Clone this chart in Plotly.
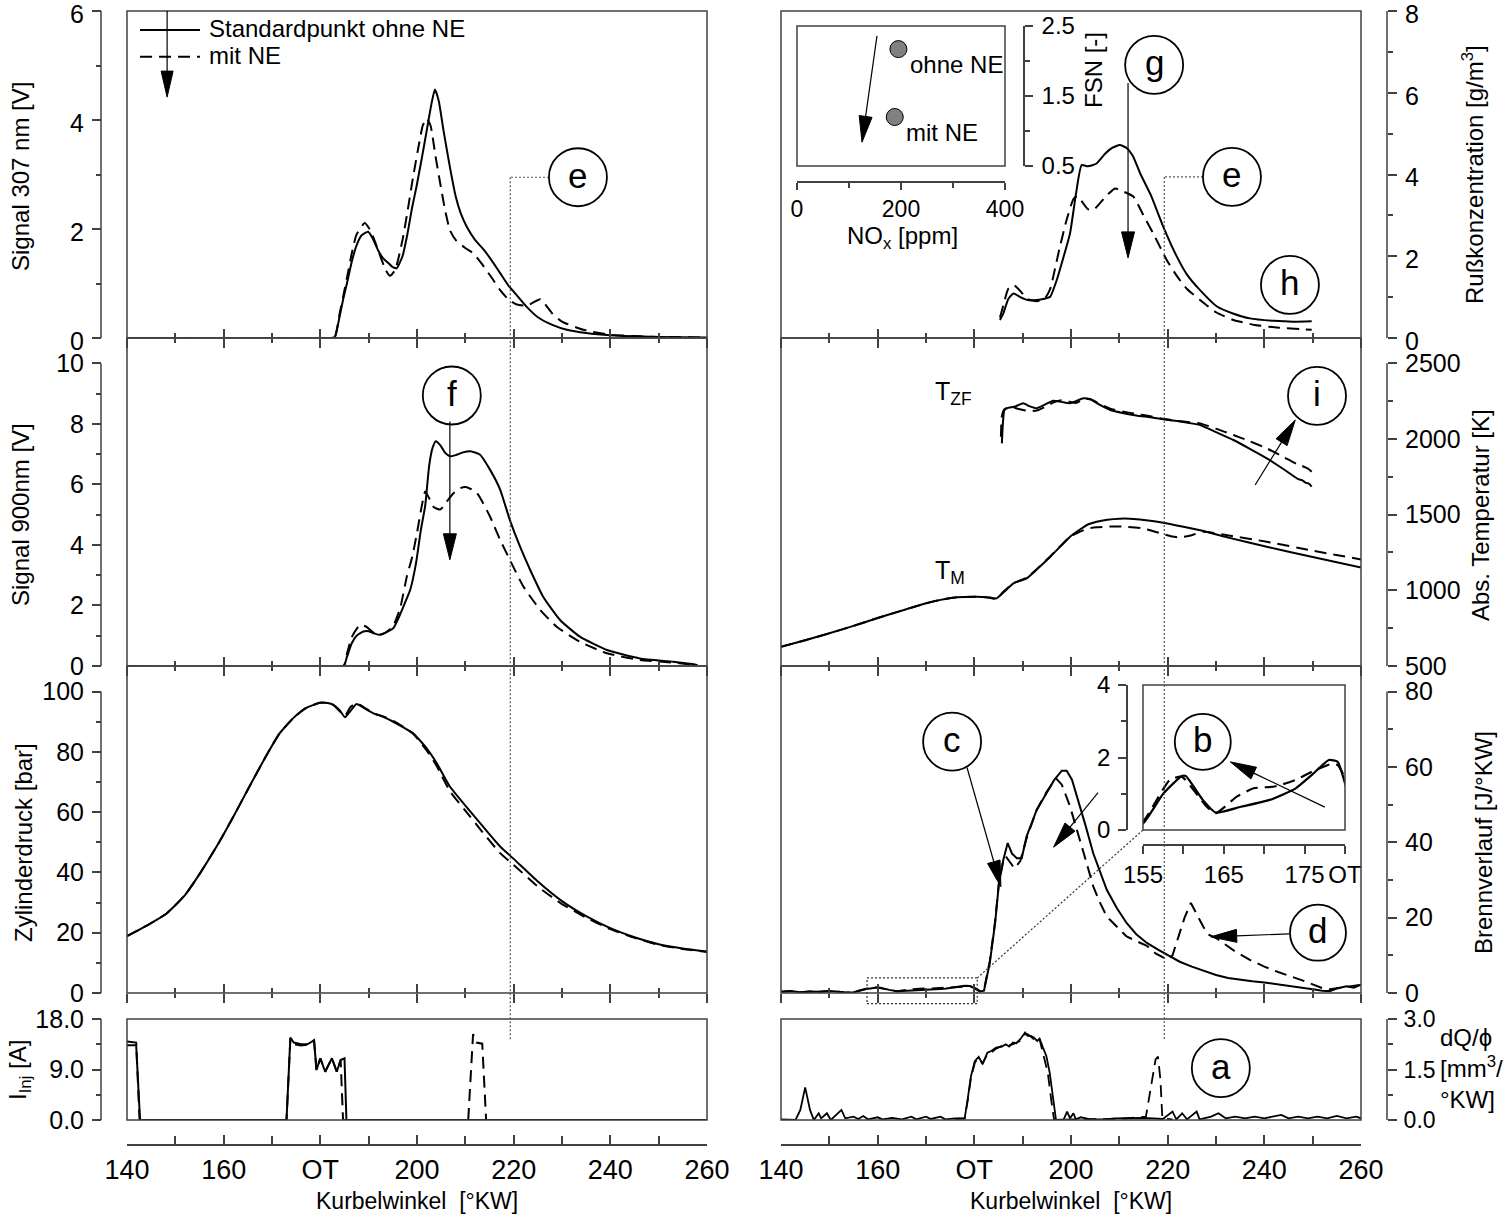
import math
import plotly.graph_objects as go

W, H = 1508, 1218
FONT = "Liberation Sans, Arial, Helvetica, sans-serif"
NARROW = "Liberation Sans Narrow, Arial Narrow, Liberation Sans, sans-serif"
FRAME = "#404040"
INK = "black"
DASH = "12px,7px"

# ---------------- measured data (crank angle in °KW) ----------------
# Signal 307 nm [V]
ca307_std = [140, 182, 183, 184, 184.7, 185.5, 186.5, 187.5, 188.5, 189.9, 191, 192, 193, 194, 195, 195.8,
             197, 198, 199, 199.9, 201, 202, 203, 203.7, 204.5, 205.5, 206.8, 208, 209, 210.3, 212, 214, 216,
             217.2, 219, 220, 222.7, 225, 228, 231, 235, 240, 250, 260]
sig307_std = [0, 0, 0.02, 0.4, 0.7, 1.0, 1.4, 1.7, 1.88, 1.95, 1.8, 1.6, 1.46, 1.38, 1.3, 1.28,
              1.5, 1.9, 2.4, 2.78, 3.3, 3.8, 4.3, 4.56, 4.35, 3.8, 3.14, 2.6, 2.3, 2.04, 1.8, 1.6, 1.35,
              1.19, 0.95, 0.85, 0.57, 0.38, 0.24, 0.15, 0.09, 0.05, 0.02, 0.01]
ca307_ne = [140, 182, 183, 184, 184.7, 185.5, 186.5, 187.5, 189.2, 190.5, 192, 193.5, 194.4, 195.5, 197, 198,
            199.2, 200.5, 201.2, 202, 202.8, 203.8, 204.8, 205.8, 206.8, 208, 210, 211.7, 213.5, 215.5, 217.2,
            219, 220.5, 222.7, 224, 225.5, 226.5, 228, 230, 234.4, 240, 250, 260]
sig307_ne = [0, 0, 0.02, 0.45, 0.75, 1.1, 1.55, 1.9, 2.11, 1.95, 1.6, 1.25, 1.14, 1.25, 1.8, 2.3,
             2.96, 3.6, 3.9, 4.03, 3.9, 3.35, 2.84, 2.35, 1.98, 1.8, 1.65, 1.55, 1.35, 1.1, 0.88,
             0.7, 0.62, 0.59, 0.65, 0.71, 0.62, 0.45, 0.3, 0.15, 0.06, 0.02, 0.01]

# Rußkonzentration [g/m3]
ca_rus_std = [185.3, 186, 187, 188.1, 189.5, 191, 192.9, 194.5, 195.7, 197, 198.5, 199.8, 201, 202.2, 203.5,
              205.3, 207, 208.5, 210.1, 211.5, 212.8, 214.3, 216.5, 219.1, 221.9, 224, 226.7, 230.2, 233.5,
              237, 242, 246, 249.8]
rus_std = [0.44, 0.6, 0.95, 1.09, 1.0, 0.93, 0.93, 0.96, 1.01, 1.4, 2.0, 2.56, 3.5, 4.23, 4.2,
           4.27, 4.5, 4.65, 4.72, 4.65, 4.45, 4.03, 3.5, 2.72, 1.99, 1.55, 1.17, 0.77, 0.6,
           0.48, 0.42, 0.4, 0.41]
ca_rus_ne = [185.3, 186, 187, 188.1, 189.5, 191, 192.9, 194.5, 195.7, 196.7, 197.7, 199, 200.5, 201.3, 202.5,
             203.5, 204.6, 206, 207.5, 209.1, 210.5, 212.9, 215, 217, 219.8, 222, 224, 226.7, 230, 233.6,
             238, 243, 249.8]
rus_ne = [0.5, 0.8, 1.2, 1.3, 1.15, 0.95, 0.9, 0.95, 1.2, 1.7, 2.23, 2.85, 3.4, 3.47, 3.3,
          3.15, 3.13, 3.3, 3.5, 3.66, 3.6, 3.46, 3.0, 2.56, 1.91, 1.5, 1.2, 0.93, 0.63, 0.44,
          0.32, 0.25, 0.2]

# Signal 900 nm [V]
ca900_std = [140, 184.8, 185.5, 186.5, 187.5, 188.9, 190, 191.3, 192.3, 193.5, 195.1, 196.5, 197.8, 198.6,
             199.8, 200.8, 201.7, 202.5, 203.2, 203.9, 204.8, 205.8, 206.8, 208, 209.5, 211, 213, 215.1,
             217.2, 219.2, 221.3, 223.4, 226.1, 229.6, 233.7, 239.3, 246.1, 253, 257.5, 258]
sig900_std = [0, 0, 0.3, 0.75, 1.0, 1.14, 1.15, 1.07, 1.03, 1.1, 1.25, 1.7, 2.2, 2.52,
              3.4, 4.5, 5.3, 6.6, 7.2, 7.43, 7.3, 7.05, 6.93, 6.97, 7.06, 7.10, 6.99, 6.49,
              5.83, 4.83, 3.95, 3.18, 2.29, 1.52, 0.97, 0.53, 0.25, 0.14, 0.05, 0.03]
ca900_ne = [140, 184.8, 185.5, 186.5, 188.2, 189.5, 191, 192.3, 193.5, 195, 196.5, 197.9, 199, 200, 201,
            201.7, 202.5, 203.5, 204.8, 206, 207.5, 209, 210.3, 212.4, 215.1, 217.2, 219.2, 222, 225.5,
            228.9, 233.7, 239.3, 246.1, 253, 257.5, 258]
sig900_ne = [0, 0, 0.4, 0.95, 1.36, 1.3, 1.1, 1.03, 1.1, 1.3, 1.9, 2.96, 3.6, 4.4, 5.3,
             5.77, 5.55, 5.25, 5.17, 5.4, 5.7, 5.88, 5.91, 5.72, 4.94, 4.17, 3.51, 2.63, 1.85,
             1.30, 0.80, 0.42, 0.20, 0.11, 0.04, 0.03]

# Mean gas temperature T_M [K]
ca_tm_std = [140, 145, 150, 155, 160, 165, 170, 173, 176.4, 180.5, 182.5, 184.6, 186, 188.1, 190.8, 193,
             195.7, 197.8, 199.8, 202, 203.5, 205.3, 207.5, 210, 213, 216, 219.1, 223, 227.4, 233,
             240.5, 250, 260]
tm_std = [627, 670, 716, 765, 817, 866, 914, 937, 954, 958, 955, 947, 985, 1046, 1079, 1140,
          1222, 1290, 1354, 1405, 1435, 1453, 1466, 1473, 1472, 1462, 1447, 1422, 1392, 1345,
          1288, 1220, 1150]
ca_tm_ne = [140, 145, 150, 155, 160, 165, 170, 173, 176.4, 180.5, 182.5, 184.6, 186, 188.1, 190.8, 193,
            195.7, 197.8, 199.8, 202, 203.5, 205.3, 208, 211, 215, 219.1, 221, 222.6, 224.5, 227.4,
            233, 240.5, 250, 260]
tm_ne = [627, 670, 716, 765, 817, 866, 914, 937, 954, 958, 955, 945, 990, 1048, 1082, 1142,
         1224, 1292, 1354, 1390, 1408, 1416, 1421, 1421, 1408, 1372, 1355, 1350, 1360, 1387,
         1360, 1321, 1262, 1204]

# Flame temperature T_ZF [K]
ca_tzf_std = [185.7, 185.9, 186.2, 186.7, 188.5, 190.1, 191.5, 192.9, 194.5, 196.3, 198, 199.8, 201, 202.6,
              204, 206, 208.1, 210.9, 213.5, 216.4, 219.1, 222, 224.5, 226.7, 230, 233.6, 237, 240.5,
              244, 247, 247.8, 248.5, 249.2, 249.8]
tzf_std = [1971, 2100, 2190, 2203, 2215, 2236, 2215, 2203, 2225, 2253, 2245, 2236, 2250, 2269,
           2262, 2225, 2191, 2170, 2155, 2143, 2130, 2118, 2105, 2092, 2045, 1993, 1935, 1872,
           1800, 1735, 1728, 1712, 1705, 1685]
ca_tzf_ne = [185.5, 185.7, 186.2, 187.5, 189, 190.1, 191.5, 192.9, 194.5, 196.3, 198, 199.8, 201, 202.6,
             204, 206, 208.1, 210.9, 213.5, 216.4, 219.1, 222, 224.5, 226.7, 230, 233.6, 237, 240.5,
             244, 247, 247.8, 248.5, 249.2, 249.8]
tzf_ne = [2015, 2150, 2195, 2210, 2200, 2191, 2185, 2188, 2210, 2240, 2255, 2245, 2238, 2262,
          2262, 2230, 2200, 2180, 2165, 2150, 2133, 2120, 2110, 2103, 2068, 2026, 1985, 1938,
          1880, 1830, 1822, 1812, 1800, 1784]

# Zylinderdruck [bar]
ca_p = [140, 144, 148.2, 152, 155.1, 158.5, 162, 165.5, 168.9, 171.5, 174.4, 177, 179.9, 181.5, 182.7,
        184, 185.1, 186.2, 187.5, 189, 191, 193, 195.1, 197, 199.2, 202, 204, 206.8, 210, 213.5,
        217.2, 220, 225, 230, 235, 240, 245, 250, 255, 260]
p_std = [18.9, 22.3, 26.4, 32.5, 39.7, 48.5, 58.5, 69, 79, 86, 91.2, 94.5, 96.3, 96.2, 95.6,
         93.8, 91.5, 93.5, 95.9, 94.6, 92.8, 91.6, 90.0, 88.3, 86.2, 81.2, 76.5, 68.5, 62.2, 55.5,
         48.6, 44.5, 37, 30.5, 25.5, 21.5, 18.5, 16.2, 14.8, 13.8]
p_ne = [18.9, 22.3, 26.4, 32.5, 39.7, 48.5, 58.5, 69, 79, 86, 91.2, 94.5, 96.3, 96.2, 95.6,
        93.5, 92.0, 94.8, 96.2, 94.8, 92.8, 91.8, 90.3, 88.5, 86.0, 80.5, 75.5, 67.0, 60.5, 53.5,
        46.4, 42.5, 35.3, 29.5, 25.0, 21.2, 18.3, 16.0, 14.6, 13.6]

# Brennverlauf [J/°KW]
ca_hr_std = [140, 142, 144, 146, 148, 150, 152, 153.5, 155, 157.5, 159.8, 160.3, 162.4, 164, 167.1, 170.7,
             173.9, 175.9, 178, 179.1, 180, 181.2, 182, 183.2, 184.3, 185.1, 186, 186.9, 187.8, 188.8,
             189.8, 190.8, 192.9, 195, 196.5, 198.1, 199.1, 200.2, 201.9, 203, 204.6, 206, 207.4, 209.5,
             211.5, 213.5, 215.7, 218, 220, 222.5, 225, 227.5, 230, 232.5, 235, 237.5, 240, 242.5, 245,
             247.5, 250, 252, 253.5, 255, 257, 258.5, 260]
hr_std = [0.3, 0.5, 0.2, 0.4, 0.3, 0.5, 0.3, 0.1, 0.18, 1.0, 1.49, 1.49, 0.83, 0.48, 0.64, 0.83,
          1.15, 1.52, 1.93, 1.88, 1.29, 0.4, 0.6, 8, 18.6, 29.2, 35.4, 39.8, 37, 35.8,
          35.8, 41.5, 48.6, 53.0, 56.5, 59.0, 59.0, 56.6, 49.5, 44.5, 37.1, 32, 27.4, 22.5,
          18.6, 15.6, 13.3, 11.5, 10, 8.3, 7, 5.8, 4.8, 4.0, 3.5, 3.1, 2.8, 2.4, 2.0,
          1.5, 1.0, 0.6, 0.5, 1.2, 1.8, 1.4, 2.2]
ca_hr_ne = [140, 142, 144, 146, 148, 150, 152, 153.5, 155, 158.3, 159.8, 162.9, 164, 166.6, 168.7, 171.3,
            173.9, 175.9, 178.3, 179.1, 180, 181.2, 182, 183.2, 184.3, 185.1, 186, 186.5, 187.5, 188.3,
            189.5, 190.8, 192.9, 195, 196.9, 198.1, 199.8, 201.9, 203, 204.6, 206, 207.4, 209.5, 211.5,
            213.5, 215.7, 217.5, 219.1, 220, 221, 222, 223.5, 224.8, 226, 227.4, 228.5, 230, 232, 234,
            237, 240, 243, 245.7, 248, 250, 252, 253.5, 255, 257, 260]
hr_ne = [0.3, 0.5, 0.2, 0.4, 0.3, 0.5, 0.3, 0.1, 0.23, 1.38, 1.47, 0.64, 0.46, 0.92, 1.15, 1.2,
         1.38, 1.61, 1.82, 1.79, 1.43, 0.5, 0.8, 8.5, 19, 29.5, 35, 36.3, 34.5, 33.1,
         35, 41, 48.6, 53.5, 57.0, 55.3, 49.5, 40.7, 35.5, 28.3, 24, 20.3, 17.5, 15.0,
         13.8, 12.5, 10.5, 9.3, 8.8, 10, 14, 20, 23.9, 21, 17.5, 15.5, 14.6, 12.8, 11,
         8.8, 7.0, 5.5, 4.4, 3.3, 2.3, 1.3, 1.0, 1.3, 1.6, 2.2]

# Injektorstrom I_Inj [A]
ca_inj_std = [140, 141.9, 142.7, 173.0, 173.8, 174.5, 176, 177.3, 178.7, 179.2, 180, 181, 182.4, 183.4,
              184.2, 185, 185.4, 260]
inj_std = [13.3, 13.3, 0, 0, 14.7, 13.8, 13.5, 13.5, 14.2, 8.9, 11.0, 8.6, 11.0, 8.6,
           10.7, 11.0, 0, 0]
ca_inj_ne = [140, 141.9, 142.6, 173.0, 173.8, 174.5, 176, 177.3, 178.7, 179.2, 180, 181, 182.4, 183.4,
             184.2, 184.7, 210.6, 211.6, 212.3, 213.5, 214.3, 260]
inj_ne = [14.0, 13.8, 0, 0, 14.5, 13.5, 13.3, 13.4, 14.2, 8.9, 11.0, 8.6, 11.0, 8.6,
          10.7, 0, 0, 15.3, 13.8, 13.6, 0, 0]

# Einspritzverlauf dQ/phi [mm3/°KW]
ca_dq_std = [140, 143, 144, 145, 146, 146.8, 147.8, 148.3, 149.5, 150.3, 152.5, 153.3, 155, 156, 157, 158,
             160, 161, 163, 165, 167, 168, 170, 171, 173, 174, 176, 178, 178.6, 179.3, 180.1, 180.9,
             181.7, 182.7, 183.5, 184.5, 185.7, 186.5, 187.2, 188, 188.7, 189.5, 190.5, 191, 191.7,
             192.3, 193, 193.5, 194.2, 194.9, 195.6, 196.2, 196.9, 198.5, 199.2, 199.8, 200.5, 201,
             202, 204, 207, 209, 211, 213, 215, 217, 219, 221, 221.8, 223, 224, 226, 226.6, 229,
             230.5, 232, 234, 236, 238, 240, 242, 243.5, 245, 247, 249, 251, 253, 255, 257, 259, 260]
dq_std = [0.02, 0.0, 0.3, 0.97, 0.3, 0.0, 0.2, 0.05, 0.2, 0.0, 0.3, 0.05, 0.1, 0.03, 0.12, 0.02,
          0.08, 0.02, 0.06, 0.02, 0.1, 0.02, 0.1, 0.03, 0.1, 0.02, 0.05, 0.05, 0.6, 1.3, 1.75, 1.88,
          1.66, 2.0, 2.05, 2.15, 2.18, 2.25, 2.18, 2.3, 2.28, 2.4, 2.6, 2.5, 2.5,
          2.45, 2.35, 2.42, 2.15, 1.9, 1.4, 0.8, 0.0, 0.02, 0.25, 0.05, 0.2, 0.02,
          0.08, 0.02, 0.02, 0.05, 0.06, 0.05, 0.06, 0.05, 0.03, 0.25, 0.02, 0.2, 0.02, 0.25, 0.02, 0.1,
          0.2, 0.05, 0.1, 0.05, 0.1, 0.05, 0.1, 0.15, 0.05, 0.1, 0.05, 0.1, 0.05, 0.12, 0.05, 0.1, 0.05]
ca_dq_ne = [176, 178, 178.6, 179.3, 180.1, 180.9, 181.7, 182.7, 183.5, 184.5, 185.7, 186.5, 187.2, 188,
            188.7, 189.5, 190.5, 191, 191.7, 192.3, 193, 193.5, 194.2, 195.2, 196, 196.5, 200, 205,
            210, 215.5, 216.5, 217.5, 218, 218.5, 218.9, 221]
dq_ne = [0.03, 0.05, 0.55, 1.25, 1.7, 1.85, 1.68, 1.95, 2.0, 2.12, 2.2, 2.2, 2.22, 2.25,
         2.3, 2.35, 2.55, 2.55, 2.48, 2.4, 2.3, 2.4, 2.0, 1.4, 0.5, 0.0, 0.02, 0.03,
         0.03, 0.1, 0.9, 1.8, 1.88, 1.2, 0.05, 0.02]

# Emissions: NOx [ppm] vs. FSN [-]
nox_ppm = [195, 188]
fsn = [2.17, 1.2]
point_labels = ["ohne NE", "mit NE"]

# Tick labels
crank_ticks = [140, 160, 180, 200, 220, 240, 260]
crank_ticktext = ["140", "160", "OT", "200", "220", "240", "260"]
crank_minor = [150, 170, 190, 210, 230, 250]


# ---------------- geometry helpers ----------------
def fx(px):
    return px / W


def fy(py):
    return 1 - py / H


class Panel:
    def __init__(self, idx, xpx, ypx, xr, yr):
        self.idx = idx
        self.xpx, self.ypx, self.xr, self.yr = xpx, ypx, xr, yr
        self.xid = "x" if idx == 1 else f"x{idx}"
        self.yid = "y" if idx == 1 else f"y{idx}"
        self.xname = "xaxis" if idx == 1 else f"xaxis{idx}"
        self.yname = "yaxis" if idx == 1 else f"yaxis{idx}"

    def px(self, x, y):
        (a, b), (c, d) = self.xpx, self.ypx
        X = a + (x - self.xr[0]) / (self.xr[1] - self.xr[0]) * (b - a)
        Y = d - (y - self.yr[0]) / (self.yr[1] - self.yr[0]) * (d - c)
        return X, Y


LEFT, RIGHT = (127, 707), (781, 1361)
ROWS = {1: (11, 338), 2: (338, 666), 3: (666, 993), 4: (1019, 1120)}
KW = (140, 260)
YAX_L, YAX_R = 101, 1387
BOTTOM_AXIS = 1145

L1 = Panel(1, LEFT, ROWS[1], KW, (0, 6))
L2 = Panel(2, LEFT, ROWS[2], KW, (0, 10.84))
L3 = Panel(3, LEFT, ROWS[3], KW, (0, 108.5))
L4 = Panel(4, LEFT, ROWS[4], KW, (0, 18))
R1 = Panel(5, RIGHT, ROWS[1], KW, (0, 8))
R2 = Panel(6, RIGHT, ROWS[2], KW, (500, 2667))
R3 = Panel(7, RIGHT, ROWS[3], KW, (0, 86.8))
R4 = Panel(8, RIGHT, ROWS[4], KW, (0, 3))
I1 = Panel(9, (797, 1005), (26, 166), (0, 400), (0.5, 2.5))
I2 = Panel(10, (1143, 1345), (685, 830), (155, 180), (0, 4))

layout = dict(
    template="none",
    width=W, height=H, margin=dict(l=0, r=0, t=0, b=0, pad=0, autoexpand=False),
    paper_bgcolor="white", plot_bgcolor="rgba(0,0,0,0)",
    showlegend=False, hovermode=False,
    font=dict(family=FONT, size=24, color=INK),
)
shapes, annotations, traces = [], [], []


def tickstyle(ticks, length):
    return dict(ticks=ticks, ticklen=length, tickwidth=1.5, tickcolor=FRAME)


def crank_axis(p, bottom):
    ax = dict(domain=[fx(p.xpx[0]), fx(p.xpx[1])], range=list(p.xr), showgrid=False, zeroline=False,
              automargin=False,
              tickmode="array", tickvals=crank_ticks, ticktext=crank_ticktext,
              minor=dict(tickmode="array", tickvals=crank_minor, **tickstyle("inside", 5)),
              **tickstyle("inside", 9))
    if bottom:
        ax.update(anchor="free", position=fy(BOTTOM_AXIS), showline=True, linecolor=FRAME, linewidth=1.5,
                  tickfont=dict(family=NARROW, size=27), ticklabelstandoff=1, ticklabeloverflow="allow")
        ax["minor"] = dict(tickmode="array", tickvals=crank_minor, **tickstyle("inside", 8))
    else:
        ax.update(anchor=p.yid, showline=False, showticklabels=False)
    return ax


def seg(a, b, width=1.3, color=INK, dash=None):
    line = dict(color=color, width=width)
    if dash:
        line["dash"] = dash
    shapes.append(dict(type="line", xref="paper", yref="paper",
                       x0=fx(a[0]), y0=fy(a[1]), x1=fx(b[0]), y1=fy(b[1]), line=line))


def value_axis(p, xpos, side, tickvals, ticktext, minorvals, line_span, size=25, standoff=3, shift=0):
    layout[p.yname] = dict(
        domain=[fy(p.ypx[1]), fy(p.ypx[0])], range=list(p.yr), anchor="free", position=fx(xpos),
        side=side, showgrid=False, zeroline=False, showline=False, automargin=False,
        tickmode="array", tickvals=tickvals, ticktext=ticktext, ticklabeloverflow="allow",
        minor=dict(tickmode="array", tickvals=minorvals, **tickstyle("outside", 5)),
        tickfont=dict(family=FONT, size=size), ticklabelstandoff=standoff, ticklabelshift=shift,
        **tickstyle("outside", 9))
    y0 = p.px(p.xr[0], line_span[0])[1]
    y1 = p.px(p.xr[0], line_span[1])[1]
    seg((xpos, y0), (xpos, y1), width=1.5, color=FRAME)


def frame(p):
    (a, b), (c, d) = p.xpx, p.ypx
    shapes.append(dict(type="rect", xref="paper", yref="paper", x0=fx(a), x1=fx(b), y0=fy(d), y1=fy(c),
                       line=dict(color=FRAME, width=1.5)))


def arrow(tail, tip, head_len=26, head_w=13):
    dx, dy = tip[0] - tail[0], tip[1] - tail[1]
    L = math.hypot(dx, dy)
    ux, uy = dx / L, dy / L
    base = (tip[0] - ux * head_len, tip[1] - uy * head_len)
    seg(tail, base, width=1.2)
    nx, ny = -uy, ux
    c1 = (base[0] + nx * head_w / 2, base[1] + ny * head_w / 2)
    c2 = (base[0] - nx * head_w / 2, base[1] - ny * head_w / 2)
    path = (f"M{fx(tip[0])},{fy(tip[1])} L{fx(c1[0])},{fy(c1[1])} "
            f"L{fx(c2[0])},{fy(c2[1])} Z")
    shapes.append(dict(type="path", xref="paper", yref="paper", path=path,
                       fillcolor=INK, line=dict(color=INK, width=1)))


def marker_circle(center, text, r=29):
    cx, cy = center
    shapes.append(dict(type="circle", xref="paper", yref="paper",
                       x0=fx(cx - r), x1=fx(cx + r), y0=fy(cy + r), y1=fy(cy - r),
                       line=dict(color=INK, width=1.8)))
    annotations.append(dict(xref="paper", yref="paper", x=fx(cx), y=fy(cy - 2), text=text,
                            showarrow=False, xanchor="center", yanchor="middle",
                            font=dict(family=FONT, size=35, color=INK)))


def label(pos, text, size=24, xanchor="left", angle=0, family=FONT, align="left"):
    annotations.append(dict(xref="paper", yref="paper", x=fx(pos[0]), y=fy(pos[1]), text=text,
                            showarrow=False, xanchor=xanchor, yanchor="middle", textangle=angle,
                            align=align, font=dict(family=family, size=size, color=INK)))


def curve(p, x, y, dashed=False, smooth=True, width=2.0):
    line = dict(color=INK, width=width, dash=DASH if dashed else "solid")
    if smooth:
        line.update(shape="spline", smoothing=0.5)
    traces.append(go.Scatter(x=x, y=y, xaxis=p.xid, yaxis=p.yid, mode="lines",
                             line=line, showlegend=False, hoverinfo="skip"))


# ---------------- axes ----------------
for p in (L1, L2, L3, R1, R2, R3):
    layout[p.xname] = crank_axis(p, bottom=False)
for p in (L4, R4):
    layout[p.xname] = crank_axis(p, bottom=True)

# outward halves of the crossing ticks on the panel bottoms
for k, p in enumerate((L1, L2, L3, R1, R2, R3)):
    n = 11 + k
    layout[f"xaxis{n}"] = dict(
        overlaying=p.xid, anchor=p.yid, domain=[fx(p.xpx[0]), fx(p.xpx[1])], range=list(p.xr),
        showgrid=False, zeroline=False, showline=False, showticklabels=False, automargin=False,
        tickmode="array", tickvals=crank_ticks,
        minor=dict(tickmode="array", tickvals=crank_minor, **tickstyle("outside", 4)),
        **tickstyle("outside", 9))
    traces.append(go.Scatter(x=[None], y=[None], xaxis=f"x{n}", yaxis=p.yid, mode="lines",
                             showlegend=False, hoverinfo="skip"))

value_axis(L1, YAX_L, "left", [0, 2, 4, 6], ["0", "2", "4", "6"], [1, 3, 5], (0, 6), shift=3)
value_axis(L2, YAX_L, "left", [0, 2, 4, 6, 8, 10], ["0", "2", "4", "6", "8", "10"], [1, 3, 5, 7, 9], (0, 10))
value_axis(L3, YAX_L, "left", [0, 20, 40, 60, 80, 100], ["0", "20", "40", "60", "80", "100"],
           [10, 30, 50, 70, 90], (0, 100))
value_axis(L4, YAX_L, "left", [0, 9, 18], ["0.0", "9.0", "18.0"], [4.5, 13.5], (0, 18))
value_axis(R1, YAX_R, "right", [0, 2, 4, 6, 8], ["0", "2", "4", "6", "8"], [1, 3, 5, 7], (0, 8), shift=3)
value_axis(R2, YAX_R, "right", [500, 1000, 1500, 2000, 2500], ["500", "1000", "1500", "2000", "2500"],
           [750, 1250, 1750, 2250], (500, 2500))
value_axis(R3, YAX_R, "right", [0, 20, 40, 60, 80], ["0", "20", "40", "60", "80"], [10, 30, 50, 70], (0, 80))
value_axis(R4, YAX_R, "right", [0, 1.5, 3], ["0.0", "1.5", "3.0"], [0.75, 2.25], (0, 3), size=23, standoff=2)

# NOx / FSN inset
layout[I1.xname] = dict(
    domain=[fx(I1.xpx[0]), fx(I1.xpx[1])], range=list(I1.xr), anchor="free", position=fy(182),
    showgrid=False, zeroline=False, showline=True, linecolor=FRAME, linewidth=1.5, automargin=False,
    tickmode="array", tickvals=[0, 200, 400], ticktext=["0", "200", "400"], ticklabeloverflow="allow",
    minor=dict(tickmode="array", tickvals=[100, 300], **tickstyle("outside", 5)),
    tickfont=dict(family=FONT, size=23), ticklabelstandoff=0, **tickstyle("outside", 7))
layout[I1.yname] = dict(
    domain=[fy(I1.ypx[1]), fy(I1.ypx[0])], range=list(I1.yr), anchor="free", position=fx(1024),
    side="right", showgrid=False, zeroline=False, showline=True, linecolor=FRAME, linewidth=1.5,
    automargin=False, ticklabeloverflow="allow",
    tickmode="array", tickvals=[0.5, 1.5, 2.5], ticktext=["0.5", "1.5", "2.5"],
    minor=dict(tickmode="array", tickvals=[1.0, 2.0], **tickstyle("outside", 5)),
    tickfont=dict(family=FONT, size=24), ticklabelstandoff=4, **tickstyle("outside", 8))

# zoomed heat-release inset
layout[I2.xname] = dict(
    domain=[fx(I2.xpx[0]), fx(I2.xpx[1])], range=list(I2.xr), anchor="free", position=fy(845),
    showgrid=False, zeroline=False, showline=True, linecolor=FRAME, linewidth=1.5, automargin=False,
    tickmode="array", tickvals=[155, 165, 175, 180], ticktext=["155", "165", "175", "OT"],
    ticklabeloverflow="allow",
    minor=dict(tickmode="array", tickvals=[160, 170], **tickstyle("outside", 8)),
    tickfont=dict(family=FONT, size=24), ticklabelstandoff=0, **tickstyle("outside", 8))
layout[I2.yname] = dict(
    domain=[fy(I2.ypx[1]), fy(I2.ypx[0])], range=list(I2.yr), anchor="free", position=fx(1127),
    side="left", showgrid=False, zeroline=False, showline=True, linecolor=FRAME, linewidth=1.5,
    automargin=False, ticklabeloverflow="allow",
    tickmode="array", tickvals=[0, 2, 4], ticktext=["0", "2", "4"],
    minor=dict(tickmode="array", tickvals=[1, 3], **tickstyle("outside", 5)),
    tickfont=dict(family=FONT, size=24), ticklabelstandoff=3, **tickstyle("outside", 8))

for p in (L1, L2, L3, L4, R1, R2, R3, R4, I1, I2):
    frame(p)

# ---------------- curves ----------------
curve(L1, ca307_std, sig307_std)
curve(L1, ca307_ne, sig307_ne, dashed=True)
curve(L2, ca900_std, sig900_std)
curve(L2, ca900_ne, sig900_ne, dashed=True)
curve(L3, ca_p, p_std)
curve(L3, ca_p, p_ne, dashed=True)
curve(L4, ca_inj_std, inj_std, smooth=False)
curve(L4, ca_inj_ne, inj_ne, dashed=True, smooth=False)
curve(R1, ca_rus_std, rus_std)
curve(R1, ca_rus_ne, rus_ne, dashed=True)
curve(R2, ca_tm_std, tm_std)
curve(R2, ca_tm_ne, tm_ne, dashed=True)
curve(R2, ca_tzf_std, tzf_std)
curve(R2, ca_tzf_ne, tzf_ne, dashed=True)
curve(R3, ca_hr_std, hr_std, smooth=False)
curve(R3, ca_hr_ne, hr_ne, dashed=True, smooth=False)
curve(R4, ca_dq_std, dq_std, smooth=False, width=1.8)
curve(R4, ca_dq_ne, dq_ne, dashed=True, smooth=False, width=1.8)
curve(I2, ca_hr_std, hr_std, width=2.2)
curve(I2, ca_hr_ne, hr_ne, dashed=True, width=2.2)

traces.append(go.Scatter(x=nox_ppm, y=fsn, xaxis=I1.xid, yaxis=I1.yid, mode="markers",
                         marker=dict(size=17, color="#808080", line=dict(color=INK, width=1)),
                         showlegend=False, hoverinfo="skip"))
for n, f, t in zip(nox_ppm, fsn, point_labels):
    label(I1.px(n + 18, f - 0.22), t)

# ---------------- legend ----------------
seg(L1.px(142.7, 5.65), L1.px(155.1, 5.65), width=2.0)
seg(L1.px(142.7, 5.16), L1.px(155.1, 5.16), width=2.0, dash=DASH)
label(L1.px(156.6, 5.68), "Standardpunkt ohne NE")
label(L1.px(156.6, 5.18), "mit NE")
arrow(L1.px(148.3, 6.0), L1.px(148.3, 4.42), head_len=26, head_w=12)

# ---------------- markers, leaders and arrows ----------------
E_ANGLE = 219.3
DOT = "2px,2px"
cx, cy = L1.px(233.3, 2.95)
xe = L1.px(E_ANGLE, 0)[0]
seg((cx - 29, cy), (xe, cy), width=1.2, color="#555555", dash=DOT)
seg((xe, cy), L4.px(E_ANGLE, 14.3), width=1.2, color="#555555", dash=DOT)
marker_circle((cx, cy), "e")

cx, cy = R1.px(233.3, 3.94)
xe = R1.px(E_ANGLE, 0)[0]
seg((cx - 29, cy), (xe, cy), width=1.2, color="#555555", dash=DOT)
seg((xe, cy), R4.px(E_ANGLE, 2.38), width=1.2, color="#555555", dash=DOT)
marker_circle((cx, cy), "e")

marker_circle(R1.px(217.2, 6.68), "g")
arrow(R1.px(211.8, 6.24), R1.px(211.8, 1.96))
marker_circle(R1.px(245.3, 1.30), "h")

marker_circle(L2.px(207.2, 8.94), "f")
arrow(L2.px(206.8, 8.08), L2.px(206.8, 3.51))

marker_circle(R2.px(250.9, 2284), "i")
arrow(R2.px(238.1, 1696), R2.px(246.4, 2125))

marker_circle(R3.px(175.4, 66.7), "c")
arrow(R3.px(178.5, 59.8), R3.px(185.5, 28.2))
arrow(R3.px(205.6, 53.2), R3.px(196.4, 38.7))
marker_circle(R3.px(251.1, 16.0), "d", r=28)
arrow(R3.px(245.1, 15.7), R3.px(228.9, 14.9))

marker_circle(I2.px(162.4, 2.43), "b", r=28)
arrow(I2.px(177.5, 0.63), I2.px(165.8, 1.88))

marker_circle(R4.px(231.0, 1.54), "a")

arrow(I1.px(153.8, 2.36), I1.px(125, 0.84))

# zoom window of the inset
bx0, by0 = R3.px(157.8, 4.0)
bx1, by1 = R3.px(180.6, -2.8)
shapes.append(dict(type="rect", xref="paper", yref="paper", x0=fx(bx0), x1=fx(bx1), y0=fy(by1), y1=fy(by0),
                   line=dict(color="#333333", width=1.2, dash=DOT)))
seg((bx1, by0), I2.px(155, 0), width=1.2, color="#333333", dash=DOT)

# ---------------- text labels ----------------
label(R2.px(171.45, 2304), "T<sub>ZF</sub>", size=25)
label(R2.px(171.45, 1121), "T<sub>M</sub>", size=25)

label((20, 177), "Signal 307 nm [V]", xanchor="center", angle=-90)
label((20, 515), "Signal 900nm [V]", xanchor="center", angle=-90)
label((23, 843), "Zylinderdruck [bar]", xanchor="center", angle=-90)
label((19, 1070), "I<sub>Inj</sub> [A]", xanchor="center", angle=-90)
label((1473, 175), "Rußkonzentration [g/m<sup>3</sup>]", xanchor="center", angle=-90)
label((1480, 515), "Abs. Temperatur [K]", xanchor="center", angle=-90)
label((1483, 843), "Brennverlauf [J/°KW]", xanchor="center", angle=-90)
label((1438, 1068), "dQ/ϕ<br>[mm<sup>3</sup>/<br>°KW]", size=24)
label((417, 1201), "Kurbelwinkel  [°KW]", xanchor="center", size=23)
label((1071, 1201), "Kurbelwinkel  [°KW]", xanchor="center", size=23)
label((902, 237), "NO<sub>x</sub> [ppm]", xanchor="center")
label((1093, 70), "FSN [-]", xanchor="center", angle=-90)

layout["shapes"] = shapes
layout["annotations"] = annotations

fig = go.Figure(data=traces, layout=layout)
fig.write_html("out.html")
